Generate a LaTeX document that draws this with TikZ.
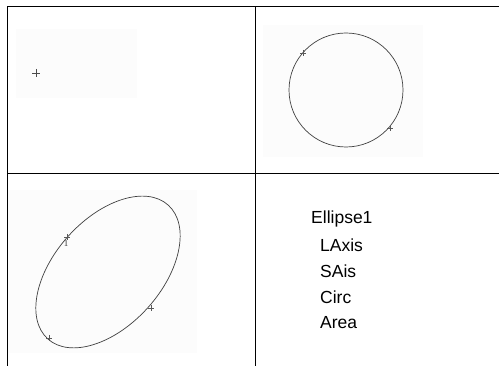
\documentclass[tikz,border=0pt]{standalone}
\usepackage{fontspec}
\setmainfont{Liberation Sans}
\newfontfamily\serifsmall{Liberation Serif}
\usetikzlibrary{calc}
\begin{document}
\begin{tikzpicture}[x=1pt,y=-1pt,
  grid/.style={line width=1pt,black},
  curve/.style={line width=0.7pt,black!75},
  mk/.style={line width=0.6pt,black!65},
  faint/.style={fill=black!1,draw=none},
  lbl/.style={anchor=west,inner sep=0pt,font=\fontsize{17.5}{19}\selectfont}]
\useasboundingbox (0,0) rectangle (499,366);
\fill[white] (0,0) rectangle (499,366);
% faint backgrounds
\path[faint] (16,29) rectangle (137,98);
\path[faint] (263,25) rectangle (423,157);
\path[faint] (7,190) rectangle (197,353);
% table lines
\coordinate (tl) at (7,7);
\coordinate (tr) at (499,7);
\coordinate (ml) at (7,174);
\coordinate (mr) at (499,174);
\coordinate (bl) at (7,366);
\coordinate (tm) at (255,7);
\coordinate (bm) at (255,366);
\draw[grid] (tl) -- (tr);
\draw[grid] (ml) -- (mr);
\draw[grid] (tl) -- (bl);
\draw[grid] (tm) -- (bm);
% top-left marker
\coordinate (p0) at (36,73);
\draw[line width=0.9pt,black!70] ($(p0)+(-4,0)$) -- ($(p0)+(4,0)$) ($(p0)+(0,-4)$) -- ($(p0)+(0,4)$);
% circle
\coordinate (cc) at (346,90);
\draw[curve] (cc) circle[radius=57];
\foreach \p in {(303,53),(390,128)}{
  \draw[mk] \p ++(-3,0) -- ++(6,0) \p ++(0,-3) -- ++(0,6);
}
% ellipse
\coordinate (ec) at (108,272);
\draw[curve,rotate around={48:(ec)}] (ec) ellipse[x radius=90,y radius=53.5];
\foreach \p in {(67,237),(151,308),(49,338)}{
  \draw[mk] \p ++(-3,0) -- ++(6,0) \p ++(0,-3) -- ++(0,6);
}
\node[inner sep=0pt,font=\serifsmall\fontsize{9}{9}\selectfont,text=black!80] (one) at (66,244) {1};
% labels
\node[lbl] (t1) at (311,219) {Ellipse1};
\node[lbl] (t2) at (320,245) {LAxis};
\node[lbl] (t3) at (320,271) {SAis};
\node[lbl] (t4) at (320,297) {Circ};
\node[lbl] (t5) at (320,323) {Area};
\end{tikzpicture}
\end{document}
